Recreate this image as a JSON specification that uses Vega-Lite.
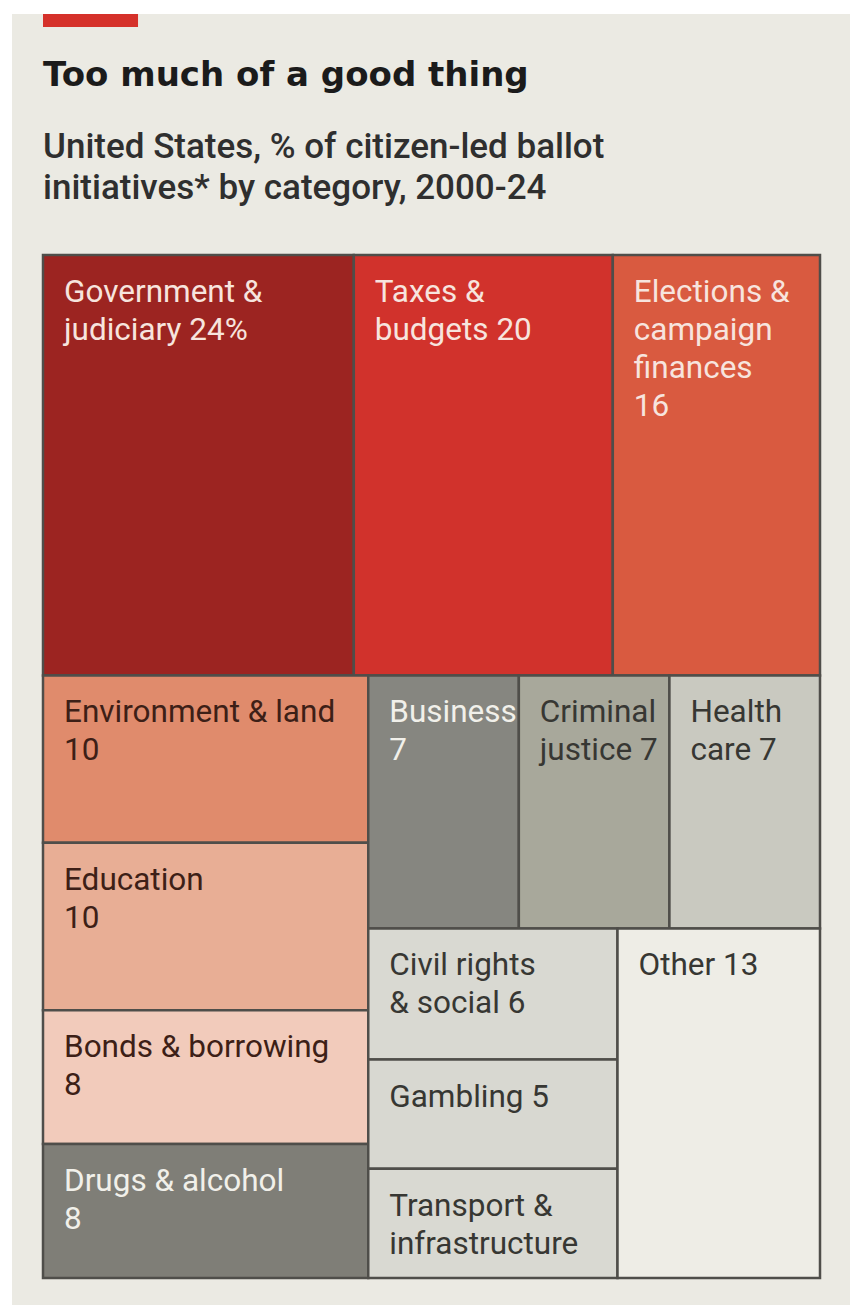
{
  "$schema": "https://vega.github.io/schema/vega-lite/v6.json",
  "width": 777,
  "height": 1023,
  "autosize": {"type": "none"},
  "padding": {"left": 43, "right": 32, "top": 255, "bottom": 27},
  "background": "#ffffff",
  "config": {"view": {"stroke": null}},
  "title": {
    "text": "Too much of a good thing",
    "subtitle": ["United States, % of citizen-led ballot", "initiatives* by category, 2000-24"],
    "anchor": "start",
    "frame": "group",
    "font": "DejaVu Sans",
    "fontSize": 34,
    "fontWeight": 700,
    "color": "#1b1b1b",
    "subtitleFont": "Roboto",
    "subtitleFontSize": 35,
    "subtitleFontWeight": 500,
    "subtitleColor": "#2f2f2f",
    "subtitleLineHeight": 41,
    "subtitlePadding": 37,
    "offset": -192
  },
  "data": {
    "values": [
      {"category": "Government & judiciary", "group": "A", "value": 24, "label": "Government &\njudiciary 24%"},
      {"category": "Taxes & budgets", "group": "A", "value": 20, "label": "Taxes &\nbudgets 20"},
      {"category": "Elections & campaign finances", "group": "A", "value": 16, "label": "Elections &\ncampaign\nfinances\n16"},
      {"category": "Environment & land", "group": "B", "value": 10, "label": "Environment & land\n10"},
      {"category": "Education", "group": "B", "value": 10, "label": "Education\n10"},
      {"category": "Bonds & borrowing", "group": "B", "value": 8, "label": "Bonds & borrowing\n8"},
      {"category": "Drugs & alcohol", "group": "B", "value": 8, "label": "Drugs & alcohol\n8"},
      {"category": "Business", "group": "C", "value": 7, "label": "Business\n7"},
      {"category": "Criminal justice", "group": "C", "value": 7, "label": "Criminal\njustice 7"},
      {"category": "Health care", "group": "C", "value": 7, "label": "Health\ncare 7"},
      {"category": "Civil rights & social", "group": "D", "value": 6, "label": "Civil rights\n& social 6"},
      {"category": "Gambling", "group": "D", "value": 5, "label": "Gambling 5"},
      {"category": "Transport & infrastructure", "group": "D", "value": 5, "label": "Transport &\ninfrastructure"},
      {"category": "Other", "group": "E", "value": 13, "label": "Other 13"}
    ]
  },
  "layer": [
    {
      "data": {"values": [{}]},
      "mark": {"type": "rect", "fill": "#ebeae3"},
      "encoding": {
        "x": {"datum": -0.0399, "type": "quantitative", "scale": {"domain": [0, 1], "nice": false, "zero": false}, "axis": null},
        "x2": {"datum": 1.0386},
        "y": {"datum": -0.23558, "type": "quantitative", "scale": {"domain": [0, 1], "nice": false, "reverse": true}, "axis": null},
        "y2": {"datum": 1.03}
      }
    },
    {
      "data": {"values": [{}]},
      "mark": {"type": "rect", "fill": "#d5312a"},
      "encoding": {
        "x": {"datum": 0, "type": "quantitative"},
        "x2": {"datum": 0.1223},
        "y": {"datum": -0.23558, "type": "quantitative"},
        "y2": {"datum": -0.22287}
      }
    },
    {
      "transform": [
        {"calculate": "datum.group === 'A' ? datum.value : 0", "as": "vA"},
        {"calculate": "datum.group === 'B' ? datum.value : 0", "as": "vB"},
        {"calculate": "datum.group === 'C' ? datum.value : 0", "as": "vC"},
        {"calculate": "datum.group === 'D' ? datum.value : 0", "as": "vD"},
        {"joinaggregate": [
          {"op": "sum", "field": "value", "as": "total"},
          {"op": "sum", "field": "vA", "as": "sA"},
          {"op": "sum", "field": "vB", "as": "sB"},
          {"op": "sum", "field": "vC", "as": "sC"},
          {"op": "sum", "field": "vD", "as": "sD"}
        ]},
        {"joinaggregate": [{"op": "sum", "field": "value", "as": "gTotal"}], "groupby": ["group"]},
        {"window": [{"op": "sum", "field": "value", "as": "c1"}], "groupby": ["group"]},
        {"calculate": "datum.sA / datum.total", "as": "yA"},
        {"calculate": "datum.sB / (datum.total - datum.sA)", "as": "xB"},
        {"calculate": "datum.yA + (1 - datum.yA) * datum.sC / (datum.total - datum.sA - datum.sB)", "as": "yC"},
        {"calculate": "datum.xB + (1 - datum.xB) * datum.sD / (datum.total - datum.sA - datum.sB - datum.sC)", "as": "xD"},
        {"calculate": "datum.group === 'C' || datum.group === 'D' ? datum.xB : datum.group === 'E' ? datum.xD : 0", "as": "gx0"},
        {"calculate": "datum.group === 'B' ? datum.xB : datum.group === 'D' ? datum.xD : 1", "as": "gx1"},
        {"calculate": "datum.group === 'A' ? 0 : (datum.group === 'D' || datum.group === 'E') ? datum.yC : datum.yA", "as": "gy0"},
        {"calculate": "datum.group === 'A' ? datum.yA : datum.group === 'C' ? datum.yC : 1", "as": "gy1"},
        {"calculate": "(datum.c1 - datum.value) / datum.gTotal", "as": "f0"},
        {"calculate": "datum.c1 / datum.gTotal", "as": "f1"},
        {"calculate": "datum.group === 'B' || datum.group === 'D'", "as": "vertical"},
        {"calculate": "datum.vertical ? datum.gx0 : datum.gx0 + (datum.gx1 - datum.gx0) * datum.f0", "as": "x0"},
        {"calculate": "datum.vertical ? datum.gx1 : datum.gx0 + (datum.gx1 - datum.gx0) * datum.f1", "as": "x1"},
        {"calculate": "datum.vertical ? datum.gy0 + (datum.gy1 - datum.gy0) * datum.f0 : datum.gy0", "as": "y0"},
        {"calculate": "datum.vertical ? datum.gy0 + (datum.gy1 - datum.gy0) * datum.f1 : datum.gy1", "as": "y1"}
      ],
      "layer": [
        {
          "mark": {"type": "rect", "stroke": "#4f4e4a", "strokeWidth": 2.5},
          "encoding": {
            "x": {"field": "x0", "type": "quantitative"},
            "x2": {"field": "x1"},
            "y": {"field": "y0", "type": "quantitative"},
            "y2": {"field": "y1"},
            "color": {
              "field": "category",
              "type": "nominal",
              "legend": null,
              "scale": {
                "domain": ["Government & judiciary", "Taxes & budgets", "Elections & campaign finances", "Environment & land", "Education", "Bonds & borrowing", "Drugs & alcohol", "Business", "Criminal justice", "Health care", "Civil rights & social", "Gambling", "Transport & infrastructure", "Other"],
                "range": ["#9c2421", "#d1322c", "#d95a40", "#e08b6c", "#e8ae95", "#f2cbbb", "#7f7e77", "#868680", "#a8a89b", "#c9c9c0", "#d9d9d2", "#d8d8d1", "#d9d9d2", "#eeede6"]
              }
            }
          }
        },
        {
          "mark": {"type": "text", "align": "left", "baseline": "top", "dx": 21, "dy": 22, "font": "Roboto", "fontSize": 31.5, "lineHeight": 38, "lineBreak": "\n"},
          "encoding": {
            "x": {"field": "x0", "type": "quantitative"},
            "y": {"field": "y0", "type": "quantitative"},
            "text": {"field": "label"},
            "color": {
              "field": "category",
              "type": "nominal",
              "legend": null,
              "scale": {
                "domain": ["Government & judiciary", "Taxes & budgets", "Elections & campaign finances", "Environment & land", "Education", "Bonds & borrowing", "Drugs & alcohol", "Business", "Criminal justice", "Health care", "Civil rights & social", "Gambling", "Transport & infrastructure", "Other"],
                "range": ["#f7e4de", "#f7e4de", "#f7e4de", "#3d1f17", "#3d1f17", "#3d1f17", "#f1f0ea", "#f1f0ea", "#373733", "#373733", "#373733", "#373733", "#373733", "#373733"]
              }
            }
          }
        }
      ],
      "resolve": {"scale": {"color": "independent"}}
    }
  ]
}
